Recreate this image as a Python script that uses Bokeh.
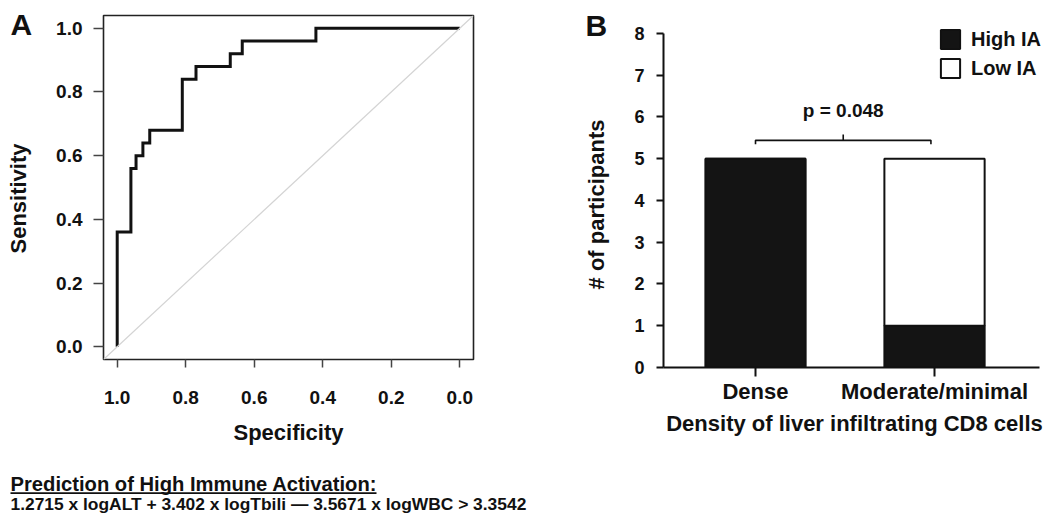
from bokeh.plotting import figure
from bokeh.layouts import row, column
from bokeh.models import (Range1d, FixedTicker, NumeralTickFormatter, Slope, Label,
                          BoxAnnotation, ColumnDataSource)
from bokeh.embed import file_html
from bokeh.resources import INLINE

# ---------------- data ----------------
# Panel A: ROC curve corner points (specificity, sensitivity)
roc_specificity = [1.0, 1.0, 0.96, 0.945, 0.925, 0.905, 0.81, 0.77, 0.67, 0.635, 0.42, 0.0]
roc_sensitivity = [0.0, 0.36, 0.56, 0.60, 0.64, 0.68, 0.84, 0.88, 0.92, 0.96, 1.00, 1.00]
roc_ticks = [0.0, 0.2, 0.4, 0.6, 0.8, 1.0]

# Panel B: stacked counts
density_categories = ["Dense", "Moderate/minimal"]
high_ia_counts = [5, 1]
low_ia_counts = [0, 4]
count_ticks = [0, 1, 2, 3, 4, 5, 6, 7, 8]
series_names = ["High IA", "Low IA"]
p_value_text = "p = 0.048"
bracket_level = 5.44
bracket_drop = 0.09
bracket_peak = 0.14

formula_title = "Prediction of High Immune Activation:"
formula_text = "1.2715 x logALT + 3.402 x logTbili \u2014 3.5671 x logWBC > 3.3542"

FONT = "Liberation Sans"
INK = "#111111"
ROW_H = 460


def text_panel(width, height):
    f = figure(width=width, height=height, frame_width=width, frame_height=height,
               x_range=Range1d(0, 1), y_range=Range1d(0, 1),
               x_axis_location=None, y_axis_location=None,
               output_backend="svg", toolbar_location=None,
               min_border_left=0, min_border_right=0, min_border_top=0, min_border_bottom=0)
    f.grid.visible = False
    f.outline_line_color = None
    f.frame_align = False
    return f


def lab(fig, x, y, text, size, **kw):
    fig.add_layout(Label(x=x, y=y, x_units="screen", y_units="screen", text=text,
                         text_font=FONT, text_font_style="bold", text_font_size=size,
                         text_color=INK, text_baseline="middle", **kw))


# ---------------- Panel A ----------------
ta = text_panel(40, ROW_H)
lab(ta, 10, ROW_H - 24, "A", "30px")
lab(ta, 18, ROW_H - 198, "Sensitivity", "22px", angle=90, angle_units="deg",
    text_align="center")

pa = figure(width=518, height=ROW_H, frame_width=370, frame_height=344,
            x_range=Range1d(1.04, -0.04), y_range=Range1d(-0.04, 1.04),
            output_backend="svg", toolbar_location=None,
            min_border_left=63, min_border_right=85, min_border_top=15,
            min_border_bottom=ROW_H - 15 - 344)
pa.frame_align = False
pa.grid.visible = False
pa.outline_line_color = "#222222"
pa.outline_line_width = 1.6

for ax in (pa.xaxis[0], pa.yaxis[0]):
    ax.ticker = FixedTicker(ticks=roc_ticks)
    ax.formatter = NumeralTickFormatter(format="0.0")
    ax.axis_line_color = None
    ax.major_tick_line_color = "#444444"
    ax.major_tick_line_width = 1.5
    ax.major_tick_in = 0
    ax.minor_tick_line_color = None
    ax.major_label_text_font = FONT
    ax.major_label_text_font_style = "bold"
    ax.major_label_text_font_size = "19px"
    ax.major_label_text_color = INK
    ax.axis_label_text_font = FONT
    ax.axis_label_text_font_style = "bold"
    ax.axis_label_text_font_size = "22px"
    ax.axis_label_text_color = INK

pa.xaxis.axis_label = "Specificity"
pa.xaxis.major_tick_out = 8
pa.xaxis.major_label_standoff = 23
pa.xaxis.axis_label_standoff = 13
pa.yaxis.major_tick_out = 10
pa.yaxis.major_label_standoff = 11
pa.yaxis.major_label_orientation = "horizontal"

pa.add_layout(Slope(gradient=-1, y_intercept=1, line_color="#d4d4d4", line_width=1.2))
pa.step(x=roc_specificity, y=roc_sensitivity, mode="after",
        line_color=INK, line_width=3, line_join="miter")

# ---------------- Panel B ----------------
tb = text_panel(56, ROW_H)
lab(tb, 27, ROW_H - 25, "B", "30px")
lab(tb, 38, ROW_H - 204, "# of participants", "22px", angle=90, angle_units="deg",
    text_align="center")

x_pos = [i + 0.5 for i in range(len(density_categories))]
src = ColumnDataSource(dict(x=x_pos, high=high_ia_counts, low=low_ia_counts))

x_lo, x_axis_hi, x_frame_hi = -0.014, 2.087, 2.12
y_top = 8.311
pb = figure(width=434, height=ROW_H, frame_width=382, frame_height=347,
            x_range=Range1d(x_lo, x_frame_hi), y_range=Range1d(0, y_top),
            output_backend="svg", toolbar_location=None,
            min_border_left=49, min_border_right=3, min_border_top=20,
            min_border_bottom=ROW_H - 20 - 347)
pb.frame_align = False
pb.grid.visible = False
pb.outline_line_color = None

pb.vbar_stack(["high", "low"], x="x", width=0.56, source=src,
              fill_color=["#141414", "white"], line_color=INK, line_width=2,
              legend_label=series_names)

for ax in (pb.xaxis[0], pb.yaxis[0]):
    ax.axis_line_color = INK
    ax.axis_line_width = 2
    ax.major_tick_line_color = INK
    ax.major_tick_line_width = 2
    ax.major_tick_in = 0
    ax.minor_tick_line_color = None
    ax.major_label_text_font = FONT
    ax.major_label_text_font_style = "bold"
    ax.major_label_text_color = INK
    ax.axis_label_text_font = FONT
    ax.axis_label_text_font_style = "bold"
    ax.axis_label_text_font_size = "22px"
    ax.axis_label_text_color = INK

pb.yaxis.ticker = FixedTicker(ticks=count_ticks)
pb.yaxis.bounds = (0, 8)
pb.yaxis.major_tick_out = 7
pb.yaxis.major_label_standoff = 12
pb.yaxis.major_label_text_font_size = "18px"

pb.xaxis.ticker = FixedTicker(ticks=x_pos)
pb.xaxis.bounds = (x_lo, x_axis_hi)
pb.xaxis.major_label_overrides = {x: c for x, c in zip(x_pos, density_categories)}
pb.xaxis.major_tick_out = 9
pb.xaxis.major_label_standoff = 2
pb.xaxis.major_label_text_font_size = "22px"
pb.xaxis.axis_label = "Density of liver infiltrating CD8 cells"
pb.xaxis.axis_label_standoff = 4

# significance bracket
mid = sum(x_pos) / 2
pb.line(x=[x_pos[0], x_pos[0], x_pos[1] - 0.02, x_pos[1] - 0.02],
        y=[bracket_level - bracket_drop, bracket_level, bracket_level, bracket_level - bracket_drop],
        line_color=INK, line_width=1.6)
pb.line(x=[mid - 0.01, mid - 0.01], y=[bracket_level, bracket_level + bracket_peak],
        line_color=INK, line_width=1.6)
pb.add_layout(Label(x=mid - 0.01, y=6.15, text=p_value_text, text_align="center",
                    text_baseline="middle", text_font=FONT, text_font_style="bold",
                    text_font_size="19px", text_color=INK))

lg = pb.legend[0]
lg.location = (275, 287)
lg.padding = 0
lg.margin = 0
lg.spacing = 5
lg.glyph_width = 24
lg.glyph_height = 24
lg.label_height = 24
lg.label_standoff = 9
lg.border_line_color = None
lg.background_fill_alpha = 0
lg.label_text_font = FONT
lg.label_text_font_style = "bold"
lg.label_text_font_size = "20px"
lg.label_text_color = INK

# ---------------- bottom formula ----------------
BOT_H = 60
BOT_TOP = ROW_H + BOT_H  # page y of the panel's bottom edge
tc = text_panel(1048, BOT_H)
lab(tc, 10, BOT_TOP - 483, formula_title, "20.2px")
tc.add_layout(BoxAnnotation(left=10, right=376, top=BOT_TOP - 491.8,
                            bottom=BOT_TOP - 493.4,
                            left_units="screen", right_units="screen",
                            top_units="screen", bottom_units="screen",
                            fill_color=INK, fill_alpha=1, line_color=None))
lab(tc, 10, BOT_TOP - 503.3, formula_text, "17.4px")

layout = column(row(ta, pa, tb, pb), tc)
open("out.html", "w").write(file_html(layout, INLINE))
